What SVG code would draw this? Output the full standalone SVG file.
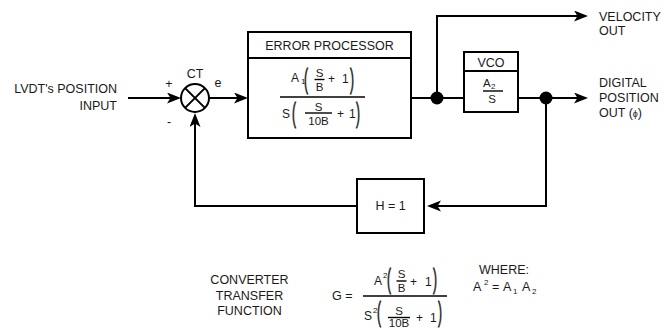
<svg xmlns="http://www.w3.org/2000/svg" width="663" height="328" viewBox="0 0 663 328">
<style>
text{font-family:"Liberation Sans",Arial,sans-serif;fill:#1a1a1a}
.l{font-size:12.5px}
.m{font-size:12px}
.f{font-size:11.5px}
.s{font-size:8px}
.p{font-size:12px;stroke:#1a1a1a;stroke-width:0.35}
.r{text-anchor:end}
.c{text-anchor:middle}
.box{fill:#fff;stroke:#000;stroke-width:2}
.w{fill:none;stroke:#000;stroke-width:2}
.fl{stroke:#000;stroke-width:1.4}
.dot{fill:#000}
</style>
<defs>
<marker id="ar" markerUnits="userSpaceOnUse" markerWidth="16" markerHeight="12" refX="10" refY="5.5" orient="auto">
<path d="M0,0 L14,5.5 L0,11 L3.5,5.5 Z" fill="#000"/>
</marker>
</defs>
<g id="connectors">
<path class="w" d="M128,98 H177" marker-end="url(#ar)"/>
<path class="w" d="M209,98 H244" marker-end="url(#ar)"/>
<path class="w" d="M411,98 H464"/>
<path class="w" d="M518,98 H584" marker-end="url(#ar)"/>
<path class="w" d="M437,98 V16 H584" marker-end="url(#ar)"/>
<path class="w" d="M546,98 V206 H431" marker-end="url(#ar)"/>
<path class="w" d="M357,206 H195 V117" marker-end="url(#ar)"/>
<circle class="dot" cx="437" cy="98" r="6.5"/>
<circle class="dot" cx="546" cy="98" r="6.5"/>
</g>
<g id="input">
<text class="l r" x="117" y="93">LVDT's POSITION</text>
<text class="l r" x="117" y="110">INPUT</text>
</g>
<g id="sum">
<circle cx="195" cy="98" r="14" fill="#fff" stroke="#000" stroke-width="2"/>
<path class="w" d="M185.1,88.1 L204.9,107.9 M204.9,88.1 L185.1,107.9"/>
<text class="l c" x="195" y="78">CT</text>
<text class="l c" x="169" y="88">+</text>
<text class="l c" x="218" y="87">e</text>
<text class="l c" x="169" y="126">-</text>
</g>
<g id="error-processor">
<rect class="box" x="248" y="32" width="163" height="106"/>
<line class="w" x1="248" y1="58" x2="411" y2="58"/>
<text class="l c" x="329.5" y="50">ERROR PROCESSOR</text>
<text class="m" x="291" y="82">A</text>
<text class="s" x="301" y="84">1</text>
<text class="p" transform="translate(304,88) scale(1,2.3)">(</text>
<text class="f c" x="319.5" y="77">S</text>
<line class="fl" x1="314.5" y1="79.5" x2="324.5" y2="79.5"/>
<text class="f c" x="319.5" y="91">B</text>
<text class="m" x="328" y="83">+</text>
<text class="m" x="342" y="83">1</text>
<text class="p" transform="translate(350,88) scale(1,2.3)">)</text>
<line class="fl" x1="280" y1="97" x2="365" y2="97"/>
<text class="m" x="282" y="118">S</text>
<text class="p" transform="translate(292,121.5) scale(1,2.3)">(</text>
<text class="f c" x="318.5" y="110.5">S</text>
<line class="fl" x1="305" y1="113" x2="332" y2="113"/>
<text class="f c" x="318.5" y="125">10B</text>
<text class="m" x="337" y="118">+</text>
<text class="m" x="349" y="118">1</text>
<text class="p" transform="translate(356,121.5) scale(1,2.3)">)</text>
</g>
<g id="vco">
<rect class="box" x="464" y="52" width="54" height="60"/>
<line class="w" x1="464" y1="71" x2="518" y2="71"/>
<text class="l c" x="491" y="67">VCO</text>
<text class="f" x="483" y="87">A</text>
<text class="s" x="491" y="89">2</text>
<line class="fl" x1="483" y1="91" x2="503" y2="91"/>
<text class="f c" x="492" y="103">S</text>
</g>
<g id="h-block">
<rect class="box" x="357" y="179" width="67" height="54"/>
<text class="l c" x="390.5" y="210">H = 1</text>
</g>
<g id="outputs">
<text class="l" x="599" y="21">VELOCITY</text>
<text class="l" x="599" y="35">OUT</text>
<text class="l" x="599" y="87">DIGITAL</text>
<text class="l" x="599" y="102">POSITION</text>
<text class="l" x="599" y="117">OUT (<tspan font-size="9">ϕ</tspan>)</text>
</g>
<g id="transfer-function">
<text class="l c" x="249.5" y="284">CONVERTER</text>
<text class="l c" x="249.5" y="299.5">TRANSFER</text>
<text class="l c" x="249.5" y="315">FUNCTION</text>
<text class="l" x="332" y="300">G =</text>
<text class="m" x="374" y="285">A</text>
<text class="s" x="383" y="278">2</text>
<text class="p" transform="translate(387,288) scale(1,2.3)">(</text>
<text class="f c" x="401.5" y="278">S</text>
<line class="fl" x1="396.5" y1="281" x2="406.5" y2="281"/>
<text class="f c" x="401.5" y="292">B</text>
<text class="m" x="410" y="286">+</text>
<text class="m" x="425" y="286">1</text>
<text class="p" transform="translate(433,288) scale(1,2.3)">)</text>
<line class="fl" x1="363" y1="296" x2="447" y2="296"/>
<text class="m" x="364" y="320">S</text>
<text class="s" x="373" y="313">2</text>
<text class="p" transform="translate(377,321) scale(1,2.3)">(</text>
<text class="f c" x="399" y="315">S</text>
<line class="fl" x1="388" y1="317.5" x2="410" y2="317.5"/>
<text class="f c" x="399" y="327">10B</text>
<text class="m" x="416" y="322">+</text>
<text class="m" x="430" y="322">1</text>
<text class="p" transform="translate(438,321) scale(1,2.3)">)</text>
<text class="l" x="479" y="274">WHERE:</text>
<text class="l" x="473" y="291">A</text>
<text class="s" x="484" y="285">2</text>
<text class="l" x="492" y="291">=</text>
<text class="l" x="503" y="291">A</text>
<text class="s" x="513" y="294">1</text>
<text class="l" x="522" y="291">A</text>
<text class="s" x="532" y="294">2</text>
</g>
</svg>
